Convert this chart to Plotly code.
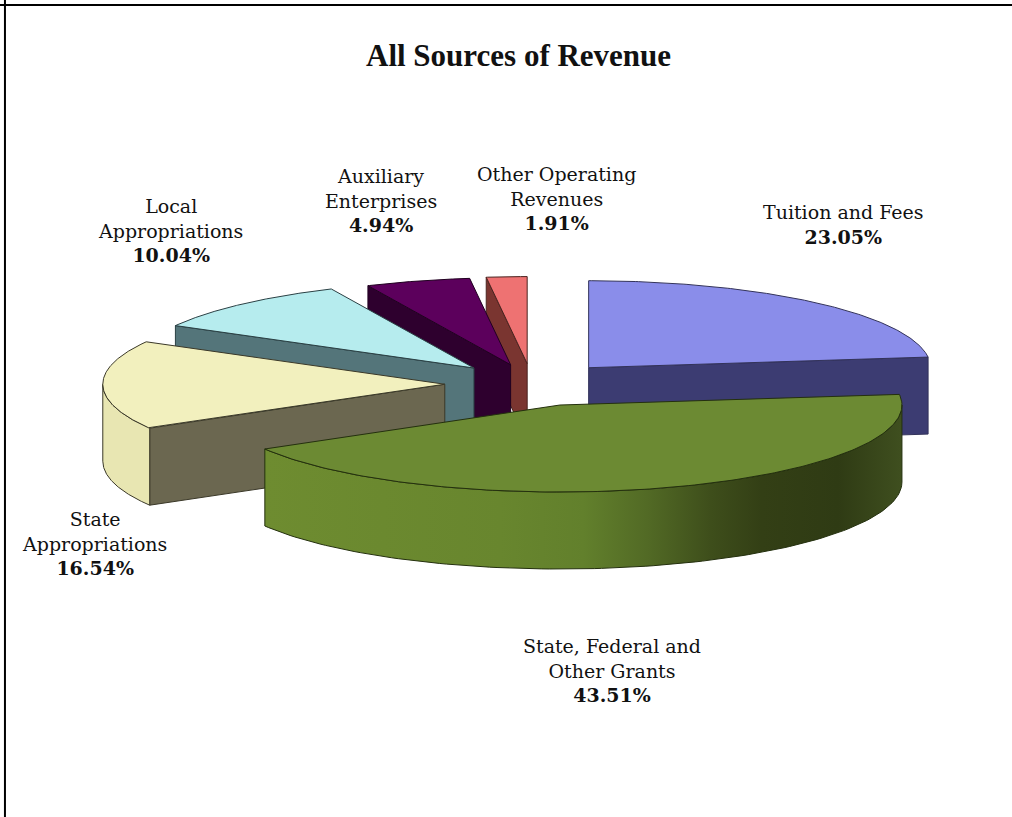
import numpy as np
import plotly.graph_objects as go

# ---- data ----
categories = ["Tuition and Fees", "State, Federal and Other Grants", "State Appropriations",
              "Local Appropriations", "Auxiliary Enterprises", "Other Operating Revenues"]
shares = [23.05, 43.51, 16.54, 10.04, 4.94, 1.91]
label_lines = [["Tuition and Fees"], ["State, Federal and", "Other Grants"], ["State", "Appropriations"],
               ["Local", "Appropriations"], ["Auxiliary", "Enterprises"], ["Other Operating", "Revenues"]]

# ---- style and layout ----
top_colors = ["#8A8DEA", "#6C8A33", "#F2F0BE", "#B6ECEE", "#5C005C", "#EE7272"]
face_colors = ["#3C3C72", "#6C8A33", "#6B6750", "#54757A", "#2E002E", "#7A3530"]
rim_gradients = [None,
                 [[0, "#6E8C30"], [0.37, "#68862E"], [0.5, "#62802C"], [0.6, "#526A25"], [0.7, "#3E4E1B"],
                  [0.78, "#333F15"], [0.9, "#2F3B14"], [1, "#3F4F1F"]],
                 [[0, "#E8E6B2"], [1, "#E8E6B2"]], None, None, None]
edge_colors = ["#33335A", "#24300E", "#3A3828", "#2A4044", "#200020", "#4A2420"]
label_centres = [(843, 224), (612, 670), (94, 543), (170, 230), (381, 200), (556, 198)]
pulls = [0.25, 0.255, 0.255, 0.25, 0.23, 0.235]
BASE = (532.0, 384.0)
RX, RY, DEPTH = 342.0, 87.0, 77.0
DRAW_ORDER = [5, 4, 3, 2, 0, 1]
LABEL_FONT = "DejaVu Serif"


def rim_xy(c, deg):
    r = np.radians(deg)
    return c[0] + RX * np.sin(r), c[1] - RY * np.cos(r)


total = sum(shares)
edges = np.concatenate([[0], np.cumsum(shares)]) / total * 360.0
fig = go.Figure()


def poly(xs, ys, color, edge, name, gradient=None):
    kw = dict(fillgradient=dict(type="horizontal", colorscale=gradient)) if gradient else dict(fillcolor=color)
    fig.add_trace(go.Scatter(x=list(xs), y=list(ys), mode="lines", fill="toself", name=name,
                             line=dict(color=edge, width=1), hoverinfo="name", showlegend=False, **kw))


for i in DRAW_ORDER:
    a0, a1 = edges[i], edges[i + 1]
    mid = np.radians((a0 + a1) / 2)
    c = (BASE[0] + pulls[i] * RX * np.sin(mid), BASE[1] - pulls[i] * RY * np.cos(mid))
    # radial side faces
    if np.sin(np.radians(a0)) < -1e-6:
        x, y = rim_xy(c, a0)
        poly([c[0], x, x, c[0], c[0]], [c[1], y, y + DEPTH, c[1] + DEPTH, c[1]],
             face_colors[i], edge_colors[i], categories[i])
    if np.sin(np.radians(a1)) > 1e-6:
        x, y = rim_xy(c, a1)
        poly([c[0], x, x, c[0], c[0]], [c[1], y, y + DEPTH, c[1] + DEPTH, c[1]],
             face_colors[i], edge_colors[i], categories[i])
    # curved rim
    lo, hi = max(a0, 90.0), min(a1, 270.0)
    if hi > lo and rim_gradients[i]:
        t = np.linspace(lo, hi, 120)
        x, y = rim_xy(c, t)
        poly(np.r_[x, x[::-1], x[0]], np.r_[y, y[::-1] + DEPTH, y[0]],
             face_colors[i], edge_colors[i], categories[i], rim_gradients[i])
    # top surface
    t = np.linspace(a0, a1, 160)
    x, y = rim_xy(c, t)
    poly(np.r_[c[0], x, c[0]], np.r_[c[1], y, c[1]], top_colors[i], edge_colors[i], categories[i])

annotations = [dict(x=518.5, y=55, xref="x", yref="y", showarrow=False, xanchor="center", yanchor="middle",
                    text="<b>All Sources of Revenue</b>",
                    font=dict(family="Liberation Serif", size=31, color="#111111"))]
for lines, share, (lx, ly) in zip(label_lines, shares, label_centres):
    annotations.append(dict(x=lx, y=ly, xref="x", yref="y", showarrow=False, xanchor="center", yanchor="middle",
                            text="<br>".join(lines + [f"<b>{share:.2f}%</b>"]), align="center",
                            font=dict(family=LABEL_FONT, size=19, color="#111111")))

shapes = [dict(type="line", xref="paper", yref="paper", x0=0.0049, x1=0.0049, y0=0, y1=1,
               line=dict(color="black", width=2)),
          dict(type="line", xref="paper", yref="paper", x0=0, x1=1, y0=0.9939, y1=0.9939,
               line=dict(color="black", width=2))]

fig.update_layout(width=1012, height=817, margin=dict(l=0, r=0, t=0, b=0), paper_bgcolor="white",
                  plot_bgcolor="white", showlegend=False, annotations=annotations, shapes=shapes,
                  xaxis=dict(range=[0, 1012], visible=False, fixedrange=True),
                  yaxis=dict(range=[817, 0], visible=False, fixedrange=True))
fig.write_html("out.html", config=dict(displayModeBar=False),
               post_script="document.body.style.margin='0';document.body.style.overflow='hidden';")
